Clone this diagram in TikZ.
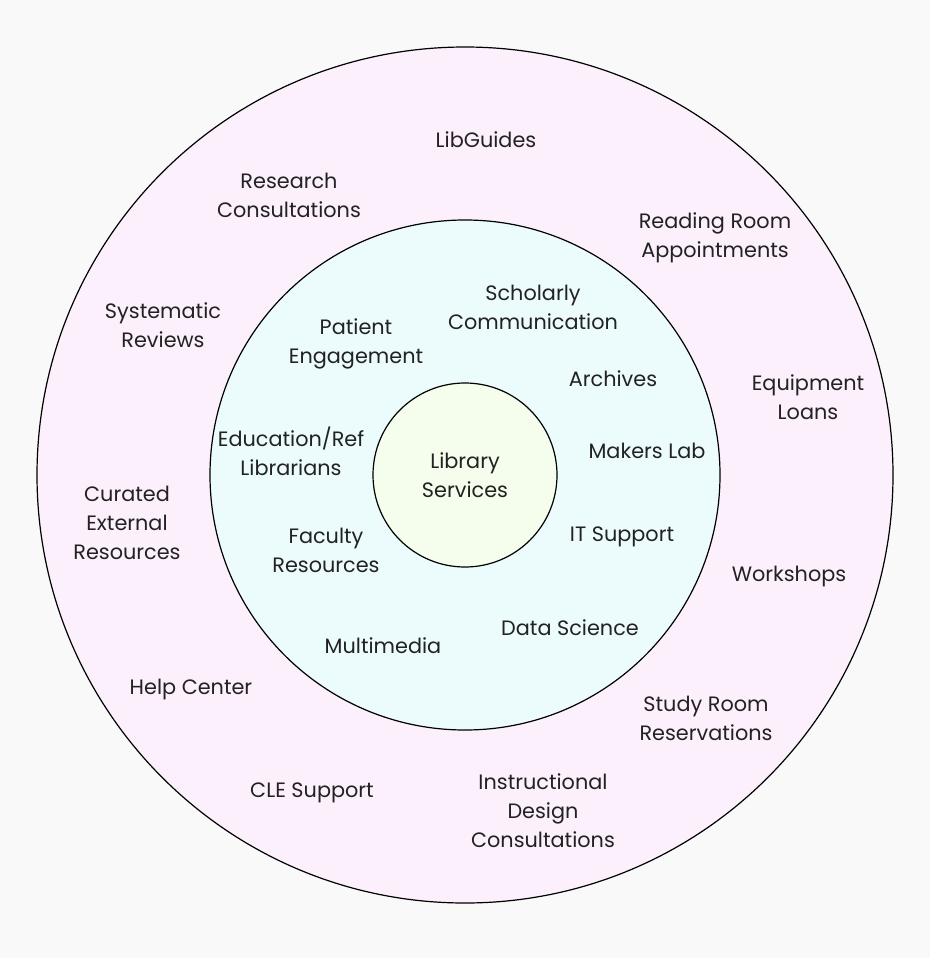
\documentclass[tikz,border=0pt]{standalone}
\usepackage{fontspec}
\setmainfont{Poppins}
\definecolor{bgc}{HTML}{F9F9F9}
\definecolor{outerc}{HTML}{FBF0FC}
\definecolor{midc}{HTML}{ECFBFC}
\definecolor{innerc}{HTML}{F5FDEC}
\definecolor{txtc}{HTML}{222222}
\begin{document}
\begin{tikzpicture}[x=1pt,y=-1pt,
  ring/.style={draw=black, line width=1.2pt},
  lbl/.style={align=center, text=txtc, inner sep=0pt,
    font=\fontsize{20.8}{29}\selectfont}]
\useasboundingbox (0,0) rectangle (930,958);
\fill[bgc] (0,0) rectangle (930,958);
\node[ring, circle, fill=outerc, minimum size=856pt, inner sep=0pt] (outer) at (465,475) {};
\node[ring, circle, fill=midc, minimum size=510pt, inner sep=0pt] (middle) at (465,475) {};
\node[ring, circle, fill=innerc, minimum size=184pt, inner sep=0pt] (inner) at (465,475) {};
\node[lbl] (core) at (465,475) {Library\\Services};
% outer ring
\node[lbl] (libguides) at (486,140) {LibGuides};
\node[lbl] (research) at (289,195) {Research\\Consultations};
\node[lbl] (reading) at (715,238) {Reading Room\\Appointments};
\node[lbl] (systematic) at (163,325) {Systematic\\Reviews};
\node[lbl] (equipment) at (808,397) {Equipment\\Loans};
\node[lbl] (curated) at (127,523) {Curated\\External\\Resources};
\node[lbl] (workshops) at (789,577) {Workshops};
\node[lbl] (help) at (191,689) {Help Center};
\node[lbl] (study) at (706,718) {Study Room\\Reservations};
\node[lbl] (cle) at (312,793) {CLE Support};
\node[lbl] (instr) at (543,811) {Instructional\\Design\\Consultations};
% middle ring
\node[lbl] (scholarly) at (533,307) {Scholarly\\Communication};
\node[lbl] (patient) at (356,344) {Patient\\Engagement};
\node[lbl] (archives) at (613,379) {Archives};
\node[lbl] (makers) at (647,451) {Makers Lab};
\node[lbl] (edref) at (291,451) {Education/Ref\\Librarians};
\node[lbl] (it) at (622,537) {IT Support};
\node[lbl] (faculty) at (326,550) {Faculty\\Resources};
\node[lbl] (data) at (570,628) {Data Science};
\node[lbl] (multi) at (383,646) {Multimedia};
\end{tikzpicture}
\end{document}
